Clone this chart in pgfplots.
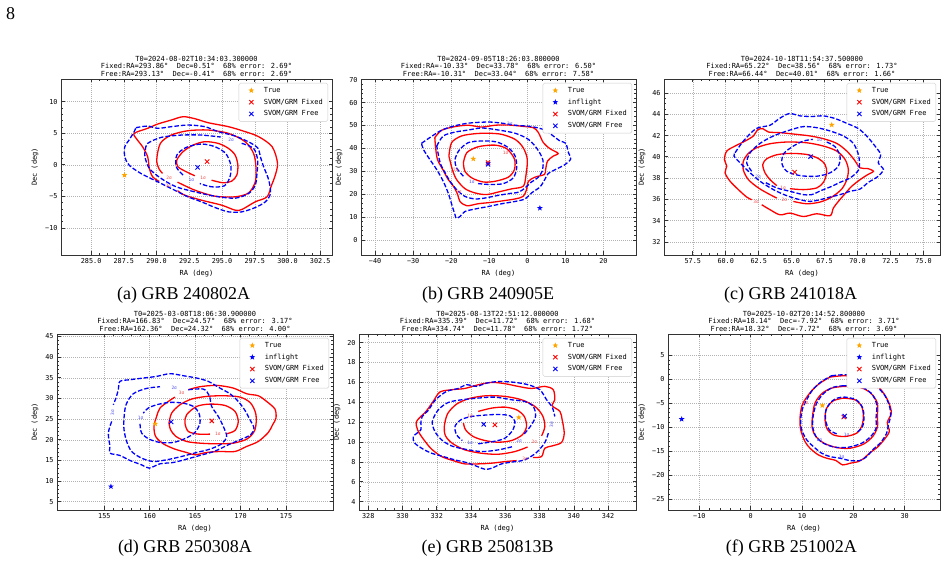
\documentclass[border=0pt]{standalone}
\usepackage{fontspec}
\setmainfont{Liberation Serif}
\newfontfamily\axfont{DejaVu Sans Mono}
\usepackage{pgfplots}
\pgfplotsset{compat=1.18}

\definecolor{trueorange}{RGB}{255,165,0}
\definecolor{lblred}{RGB}{240,80,80}
\definecolor{lblblue}{RGB}{80,80,240}

% filled five-pointed star
\pgfdeclareplotmark{fstar}{%
  \pgfpathmoveto{\pgfpointpolar{90}{\pgfplotmarksize}}%
  \pgfpathlineto{\pgfpointpolar{126}{0.42\pgfplotmarksize}}%
  \pgfpathlineto{\pgfpointpolar{162}{\pgfplotmarksize}}%
  \pgfpathlineto{\pgfpointpolar{198}{0.42\pgfplotmarksize}}%
  \pgfpathlineto{\pgfpointpolar{234}{\pgfplotmarksize}}%
  \pgfpathlineto{\pgfpointpolar{270}{0.42\pgfplotmarksize}}%
  \pgfpathlineto{\pgfpointpolar{306}{\pgfplotmarksize}}%
  \pgfpathlineto{\pgfpointpolar{342}{0.42\pgfplotmarksize}}%
  \pgfpathlineto{\pgfpointpolar{18}{\pgfplotmarksize}}%
  \pgfpathlineto{\pgfpointpolar{54}{0.42\pgfplotmarksize}}%
  \pgfpathclose
  \pgfusepathqfill
}

\newcommand{\axfs}{\axfont\fontsize{7}{7.5}\selectfont}

\pgfplotsset{
  every axis title/.style={at={(0.5,1)}, anchor=south, align=center,
    font=\axfs, inner sep=1pt, yshift=1.5pt},
  grb/.style={
    scale only axis, height=176pt, anchor=south west,
    /pgf/number format/assume math mode=true,
    axis line style={black!80, line width=0.7pt},
    tick align=inside,
    major tick length=3.5pt, minor tick length=2pt,
    tick style={black!80, line width=0.6pt},
    xmajorgrids, ymajorgrids,
    major grid style={black!30, dash pattern=on 1pt off 1pt, line width=0.5pt},
    tick label style={font=\axfont\fontsize{6.8}{7}\selectfont},
    label style={font=\axfs},
    xlabel={RA (deg)}, ylabel={Dec (deg)},
    legend style={at={(1,1)}, xshift=-4pt, yshift=-4pt, anchor=north east,
      draw=black!20, fill=white, rounded corners=1.5pt, font=\axfs,
      row sep=1pt},
    legend cell align=left,
    legend image code/.code={%
      \path (0pt,0pt) (19pt,0pt);
      \draw[mark repeat=2, mark phase=2, ##1] plot coordinates {(0pt,0pt) (9pt,0pt) (18pt,0pt)};},
  },
  c1/.style={red, line width=1.3pt, smooth, forget plot, mark=none},
  c2/.style={blue, line width=1.3pt, smooth, dash pattern=on 4.5pt off 2pt, forget plot, mark=none},
  ptrue/.style={only marks, mark=fstar, mark size=3pt, color=trueorange},
  pinfl/.style={only marks, mark=fstar, mark size=3pt, color=blue},
  pfix/.style={only marks, mark=x, mark size=3pt, color=red, line width=0.9pt},
  pfree/.style={only marks, mark=x, mark size=3pt, color=blue, line width=0.9pt},
}
\tikzset{
  rl/.style={font=\axfont\fontsize{4.5}{5}\selectfont, text=lblred, inner sep=0.2pt},
  bl/.style={font=\axfont\fontsize{4.5}{5}\selectfont, text=lblblue, inner sep=0.2pt},
}

\begin{document}
\begin{tikzpicture}
\path[use as bounding box] (0pt,0pt) rectangle (947pt,564pt);
\node[font=\fontsize{18}{20}\selectfont] at (10.5pt,550.5pt) {8};

% ---------------- (a) GRB 240802A ----------------
\begin{axis}[grb, at={(61pt,309pt)}, width=271pt,
  xmin=282.7, xmax=303.4, ymin=-14.3, ymax=13.6,
  xtick={285,287.5,290,292.5,295,297.5,300,302.5},
  xticklabels={285.0,287.5,290.0,292.5,295.0,297.5,300.0,302.5},
  ytick={-10,-5,0,5,10}, yticklabels={−10,−5,0,5,10},
  minor x tick num=3, minor y tick num=4,
  title={T0=2024-08-02T10:34:03.300000\\Fixed:RA=293.86°~~Dec=0.51°~~68\% error: 2.69°\\Free:RA=293.13°~~Dec=-0.41°~~68\% error: 2.69°}]
\addplot[c1] coordinates {(294.2,-2.44) (295.1,-2.86) (295.74,-2.59) (296.13,-1.63) (296.21,-0.05) (296.0,1.54) (295.49,2.6) (294.71,3.39) (293.69,3.66) (292.79,3.12) (292.02,2.07) (291.55,0.75) (291.63,-0.31) (292.27,-1.11) (292.92,-1.74)};
\addplot[c1] coordinates {(291.6,-2.75) (292.92,-4.02) (294.46,-4.98) (296.0,-5.08) (297.03,-4.45) (297.54,-2.7) (297.59,-0.31) (297.41,1.8) (296.77,3.66) (295.49,4.98) (293.94,5.51) (292.4,5.4) (291.12,4.71) (290.29,3.39) (290.01,0.75) (290.2,-0.7) (290.45,-1.35)};
\addplot[c1] coordinates {(291.6,-4.1) (292.14,-4.81) (293.43,-5.61) (294.97,-6.4) (296.0,-7.19) (296.51,-7.09) (297.54,-5.87) (298.44,-5.08) (298.78,-3.23) (299.03,-1.9) (299.24,0.22) (298.83,2.86) (297.8,4.45) (296.77,5.25) (295.49,6.04) (293.94,6.67) (292.92,7.31) (292.02,7.62) (291.12,7.09) (290.09,6.46) (289.32,5.78) (288.29,4.98) (288.5,4.03) (288.93,2.86) (289.32,1.27) (289.45,-0.58) (289.7,-1.9) (290.2,-2.65)};
\addplot[c2] coordinates {(292.02,-1.63) (291.5,-0.31) (291.55,1.54) (292.27,2.76) (293.43,3.29) (294.46,2.86) (295.28,1.8) (295.67,-0.05) (295.61,-1.9) (295.18,-3.33) (294.2,-3.49) (293.3,-2.97)};
\addplot[c2] coordinates {(296.5,3.4) (297.41,2.6) (297.72,0.75) (297.67,-1.37) (297.54,-3.23) (297.03,-4.55) (296.0,-5.29) (294.46,-4.98) (292.92,-4.29) (291.5,-3.49) (290.35,-2.17) (289.45,-0.58) (289.11,1.27) (289.14,2.33) (289.32,3.39) (290.35,4.34) (291.89,4.71) (293.43,4.71) (294.9,4.4)};
\addplot[c2] coordinates {(288.42,5.88) (289.32,6.14) (290.09,5.78) (291.12,6.04) (292.4,6.3) (293.69,6.04) (294.71,5.25) (296.0,4.56) (297.16,3.49) (297.75,2.6) (297.93,1.27) (298.18,-0.31) (298.57,-2.44) (298.7,-4.55) (298.31,-5.87) (297.54,-6.77) (296.51,-7.46) (295.49,-7.46) (294.46,-6.77) (293.43,-5.87) (292.4,-5.08) (291.37,-4.02) (290.09,-2.7) (288.8,-1.37) (287.9,-0.05) (287.57,1.27) (287.57,2.86) (287.9,3.92) (288.29,5.25) (288.42,5.88)};
\node[rl] at (axis cs:293.55,-2.1) {1σ};
\node[rl] at (axis cs:290.95,-2.05) {2σ};
\node[rl] at (axis cs:290.9,-3.35) {3σ};
\node[bl] at (axis cs:292.65,-2.35) {1σ};
\node[bl] at (axis cs:295.7,3.95) {2σ};
\addplot[ptrue] coordinates {(287.55,-1.65)}; \addlegendentry{True}
\addplot[pfix] coordinates {(293.86,0.51)}; \addlegendentry{SVOM/GRM Fixed}
\addplot[pfree] coordinates {(293.13,-0.41)}; \addlegendentry{SVOM/GRM Free}
\end{axis}

% ---------------- (b) GRB 240905E ----------------
\begin{axis}[grb, at={(361pt,309pt)}, width=275pt,
  xmin=-43.7, xmax=28.55, ymin=-6.6, ymax=70.3,
  xtick={-40,-30,-20,-10,0,10,20}, xticklabels={−40,−30,−20,−10,0,10,20},
  ytick={0,10,20,30,40,50,60,70},
  minor x tick num=4, minor y tick num=4,
  title={T0=2024-09-05T18:26:03.800000\\Fixed:RA=-10.33°~~Dec=33.78°~~68\% error: 6.50°\\Free:RA=-10.31°~~Dec=33.04°~~68\% error: 7.58°}]
\addplot[c1] coordinates {(-16.8,33.7) (-15.9,38.1) (-12.9,40.7) (-8.5,41.4) (-5.4,39.8) (-3.4,35.4) (-3.4,30.7) (-5.0,27.4) (-8.5,25.6) (-11.6,25.3) (-14.6,27.1) (-16.4,30.0) (-16.8,33.7)};
\addplot[c1] coordinates {(-20.6,36.6) (-19.9,42.5) (-17.3,45.4) (-13.7,46.4) (-10.2,46.6) (-6.7,46.1) (-3.2,43.9) (-1.1,40.3) (0.0,35.1) (-0.4,27.8) (-1.1,23.4) (-4.1,22.3) (-7.2,21.1) (-10.7,19.8) (-13.7,20.5) (-16.4,22.4) (-18.6,26.4) (-19.7,30.7) (-20.6,36.6)};
\addplot[c1] coordinates {(-24.3,44.7) (-22.5,47.9) (-19.0,49.5) (-15.5,50.1) (-12.0,49.3) (-8.5,50.1) (-5.0,50.2) (-1.1,49.6) (1.6,49.0) (2.9,46.9) (4.2,42.5) (6.0,39.8) (8.1,37.8) (6.8,36.6) (5.3,34.4) (4.8,30.7) (4.5,28.6) (2.0,27.4) (0.3,25.6) (-0.2,22.0) (-1.1,19.0) (-3.2,17.9) (-6.3,17.1) (-9.4,16.4) (-12.9,15.8) (-15.9,14.9) (-17.7,16.8) (-18.3,19.8) (-19.4,23.4) (-20.8,26.4) (-22.2,30.7) (-23.6,35.1) (-24.1,40.3) (-24.3,44.7)};
\addplot[c2] coordinates {(-16.8,27.8) (-18.6,31.5) (-19.0,35.1) (-17.9,39.2) (-15.5,42.5) (-12.0,43.2) (-8.1,42.8) (-5.0,40.3) (-3.2,36.6) (-2.8,31.5) (-3.7,27.1) (-6.3,24.6) (-9.8,24.2) (-12.9,24.6)};
\addplot[c2] coordinates {(-23.8,41.0) (-22.1,45.4) (-19.0,47.1) (-15.5,48.0) (-12.0,48.9) (-7.6,48.0) (-3.2,46.6) (0.3,43.9) (2.7,39.5) (4.1,34.8) (3.9,30.0) (2.7,27.1) (1.0,25.2) (-0.4,23.0) (-2.2,20.9) (-5.0,20.2) (-8.1,19.3) (-11.1,18.3) (-13.7,17.9) (-16.4,19.0) (-18.6,22.0) (-20.3,25.6) (-21.6,29.3) (-22.9,33.7) (-23.8,41.0)};
\addplot[c2] coordinates {(-27.8,42.2) (-25.6,44.7) (-22.9,47.6) (-19.9,49.5) (-15.5,51.0) (-10.2,51.5) (-6.7,51.0) (-3.2,50.1) (1.1,49.5) (4.6,48.0) (6.8,45.4) (8.6,43.2) (10.1,42.2) (10.8,38.1) (11.4,35.4) (9.9,32.9) (7.7,31.0) (5.5,29.0) (4.6,26.4) (3.3,23.1) (1.1,20.5) (-0.6,17.9) (-3.2,16.8) (-6.7,15.8) (-10.2,14.6) (-13.7,13.5) (-16.4,12.4) (-17.7,10.2) (-18.7,9.5) (-19.0,11.0) (-19.7,14.6) (-20.8,20.5) (-22.1,25.6) (-23.8,30.7) (-25.6,35.1) (-27.3,39.5) (-27.8,42.2)};
\node[rl] at (axis cs:-5.7,38.1) {1σ};
\node[rl] at (axis cs:-18.8,30.5) {2σ};
\node[rl] at (axis cs:-18.0,20.9) {3σ};
\node[bl] at (axis cs:-14.6,25.4) {1σ};
\node[bl] at (axis cs:-4.6,50.6) {3σ};
\addplot[ptrue] coordinates {(-14.2,35.4)}; \addlegendentry{True}
\addplot[pinfl] coordinates {(3.3,13.9)}; \addlegendentry{inflight}
\addplot[pfix] coordinates {(-10.33,33.78)}; \addlegendentry{SVOM/GRM Fixed}
\addplot[pfree] coordinates {(-10.31,33.04)}; \addlegendentry{SVOM/GRM Free}
\end{axis}

% ---------------- (c) GRB 241018A ----------------
\begin{axis}[grb, at={(664pt,309pt)}, width=276pt,
  xmin=55.32, xmax=76.25, ymin=30.76, ymax=47.32,
  xtick={57.5,60,62.5,65,67.5,70,72.5,75},
  xticklabels={57.5,60.0,62.5,65.0,67.5,70.0,72.5,75.0},
  ytick={32,34,36,38,40,42,44,46},
  minor x tick num=3, minor y tick num=3,
  title={T0=2024-10-18T11:54:37.500000\\Fixed:RA=65.22°~~Dec=38.56°~~68\% error: 1.73°\\Free:RA=66.44°~~Dec=40.01°~~68\% error: 1.66°}]
\addplot[c1] coordinates {(64.88,37.0) (65.89,36.91) (66.9,37.07) (67.41,37.6) (67.66,38.49) (67.53,39.27) (67.03,39.84) (66.14,40.22) (64.88,40.32) (63.87,40.19) (63.11,39.81) (62.81,39.27) (62.98,38.49) (63.36,37.85) (63.87,37.29)};
\addplot[c1] coordinates {(65.13,35.8) (66.14,35.58) (67.15,35.74) (68.04,36.21) (68.8,36.97) (69.18,37.85) (69.3,38.8) (69.05,39.75) (68.42,40.54) (67.41,41.01) (66.14,41.32) (64.63,41.39) (63.36,41.23) (62.35,40.85) (61.72,40.32) (61.34,39.59) (61.34,38.74) (61.72,37.85) (62.48,37.07) (63.36,36.44) (63.87,36.12)};
\addplot[c1] coordinates {(62.73,35.49) (63.36,35.02) (64.12,34.54) (64.88,34.7) (65.89,34.38) (66.9,34.64) (67.91,34.45) (68.16,35.17) (68.54,35.8) (69.05,36.53) (69.55,37.22) (70.19,37.85) (70.74,38.3) (71.2,38.64) (70.74,38.9) (70.19,38.96) (69.73,39.75) (69.18,40.54) (68.42,41.26) (67.41,41.7) (66.4,41.96) (65.38,42.11) (64.12,42.27) (63.24,42.33) (62.81,42.65) (62.4,42.52) (62.1,41.96) (61.47,41.48) (60.71,41.01) (60.08,40.54) (59.9,39.75) (60.08,39.12) (59.95,38.49) (60.33,37.7) (60.96,36.91) (61.59,36.21) (61.97,35.96)};
\addplot[c2] coordinates {(67.66,41.39) (68.29,40.95) (68.67,40.06) (68.54,39.12) (67.91,38.49) (66.9,38.17) (65.64,38.23) (64.63,38.64) (64.25,39.43) (64.42,40.32) (65.13,41.01) (65.89,41.48) (66.6,41.64)};
\addplot[c2] coordinates {(61.97,38.64) (61.59,39.43) (61.85,40.38) (62.6,41.26) (63.62,41.96) (64.88,42.52) (65.89,42.84) (66.9,42.74) (67.91,42.43) (68.92,41.96) (69.68,41.26) (70.09,40.06) (70.09,38.8) (69.43,38.01) (68.67,37.6) (68.04,37.22) (67.28,36.85) (66.52,36.44) (65.89,36.44) (64.88,36.75) (63.87,37.07) (62.98,37.6)};
\addplot[c2] coordinates {(60.71,40.38) (61.34,41.48) (62.3,42.65) (63.36,42.97) (64.07,43.6) (64.83,44.07) (65.64,43.85) (66.52,43.79) (67.41,43.85) (68.29,43.6) (69.18,43.15) (70.06,42.65) (70.74,41.89) (71.32,41.01) (71.75,40.22) (71.57,39.43) (71.96,38.8) (71.5,38.11) (70.82,37.6) (70.19,36.97) (69.43,36.75) (68.67,36.44) (67.91,36.21) (67.15,35.96) (66.4,35.8) (65.64,35.96) (64.63,36.34) (63.62,36.91) (62.6,37.7) (61.72,38.64) (61.09,39.43) (60.63,40.06) (60.71,40.38)};
\node[rl] at (axis cs:64.35,37.1) {1σ};
\node[rl] at (axis cs:64.45,35.95) {2σ};
\node[rl] at (axis cs:62.3,35.75) {3σ};
\node[bl] at (axis cs:67.1,41.55) {1σ};
\node[bl] at (axis cs:62.45,38.1) {2σ};
\addplot[ptrue] coordinates {(68.04,43.0)}; \addlegendentry{True}
\addplot[pfix] coordinates {(65.22,38.56)}; \addlegendentry{SVOM/GRM Fixed}
\addplot[pfree] coordinates {(66.44,40.01)}; \addlegendentry{SVOM/GRM Free}
\end{axis}

% ---------------- (d) GRB 250308A ----------------
\begin{axis}[grb, at={(57pt,54pt)}, width=276pt,
  xmin=149.79, xmax=180.18, ymin=3.0, ymax=45.6,
  xtick={155,160,165,170,175}, ytick={5,10,15,20,25,30,35,40,45},
  minor x tick num=4, minor y tick num=4,
  title={T0=2025-03-08T18:06:30.900000\\Fixed:RA=166.83°~~Dec=24.57°~~68\% error: 3.17°\\Free:RA=162.36°~~Dec=24.32°~~68\% error: 4.00°}]
\addplot[c1] coordinates {(166.63,21.37) (165.35,21.37) (164.25,22.01) (163.88,24.03) (164.06,26.05) (165.17,28.07) (166.63,28.63) (168.28,28.31) (169.39,26.86) (169.75,24.43) (169.39,22.25) (168.47,21.45)};
\addplot[c1] coordinates {(162.12,24.03) (162.41,26.45) (163.33,28.47) (164.61,29.85) (166.27,30.49) (168.1,30.65) (169.94,30.33) (171.11,28.88) (171.7,26.05) (171.59,22.42) (170.74,20.23) (169.2,19.18) (167.37,19.02) (165.53,19.18) (164.06,19.59) (162.89,20.8) (162.3,22.42) (162.12,24.03)};
\addplot[c1] coordinates {(164.25,32.11) (165.53,32.84) (167.37,33.16) (169.2,32.51) (170.67,31.14) (171.95,30.65) (172.87,29.28) (173.79,27.42) (173.9,25.24) (173.53,23.63) (173.06,21.77) (171.95,19.59) (170.67,18.38) (169.39,17.16) (167.73,17.16) (166.27,16.92) (164.98,16.36) (164.06,16.92) (162.78,17.73) (161.5,19.02) (160.65,20.8) (160.47,23.22) (160.76,25.65) (161.13,27.67) (162.05,29.28) (162.78,30.33)};
\addplot[c2] coordinates {(158.93,23.87) (159.11,21.61) (159.95,20.15) (161.13,19.35) (162.6,19.35) (163.92,20.32) (164.98,21.77) (165.53,24.03) (165.42,26.45) (164.8,28.07) (163.62,28.88) (162.16,29.04) (160.76,28.47) (159.84,27.67) (159.29,26.45)};
\addplot[c2] coordinates {(164.25,32.11) (165.9,32.27) (166.56,30.65) (166.82,28.07) (167.55,25.65) (168.1,23.22) (168.47,20.8) (167.92,19.02) (166.63,17.73) (165.17,16.92) (163.51,15.95) (161.86,15.15) (160.39,14.74) (159.11,15.55) (158.01,17.16) (157.46,19.59) (157.17,22.42) (157.17,25.24) (157.39,28.47) (158.19,31.14) (159.66,32.43) (161.13,32.84)};
\addplot[c2] coordinates {(155.81,24.43) (155.44,21.61) (155.62,18.38) (155.62,16.76) (156.72,16.2) (157.83,14.98) (159.11,13.93) (159.95,13.13) (161.13,14.18) (162.6,14.5) (164.06,15.31) (165.53,16.2) (167.18,17.25) (168.65,18.78) (169.94,19.99) (171.11,21.2) (171.48,22.82) (171.04,24.84) (170.49,27.1) (169.75,29.28) (168.83,31.14) (167.73,32.51) (166.45,34.13) (165.17,34.94) (163.7,35.5) (162.23,35.99) (160.76,35.34) (159.29,34.94) (157.83,34.53) (156.72,34.13) (156.54,32.11) (156.28,30.09) (155.99,28.47)};
\node[rl] at (axis cs:167.5,21.4) {1σ};
\node[rl] at (axis cs:163.5,31.3) {3σ};
\node[bl] at (axis cs:159.0,25.2) {1σ};
\node[bl] at (axis cs:162.7,32.6) {2σ};
\node[bl, rotate=90] at (axis cs:155.9,26.5) {3σ};
\addplot[ptrue] coordinates {(160.61,23.87)}; \addlegendentry{True}
\addplot[pinfl] coordinates {(155.73,8.68)}; \addlegendentry{inflight}
\addplot[pfix] coordinates {(166.83,24.57)}; \addlegendentry{SVOM/GRM Fixed}
\addplot[pfree] coordinates {(162.36,24.32)}; \addlegendentry{SVOM/GRM Free}
\end{axis}

% ---------------- (e) GRB 250813B ----------------
\begin{axis}[grb, at={(359pt,54pt)}, width=277pt,
  xmin=327.46, xmax=343.63, ymin=3.16, ymax=20.87,
  xtick={328,330,332,334,336,338,340,342}, ytick={4,6,8,10,12,14,16,18,20},
  minor x tick num=3, minor y tick num=3,
  title={T0=2025-08-13T22:51:12.000000\\Fixed:RA=335.39°~~Dec=11.72°~~68\% error: 1.68°\\Free:RA=334.74°~~Dec=11.78°~~68\% error: 1.72°}]
\addplot[c1] coordinates {(334.42,13.08) (335.2,13.41) (335.98,13.51) (336.66,13.24) (337.11,12.57) (337.24,11.56) (336.99,10.72) (336.37,10.15) (335.59,9.98) (334.81,10.15) (334.13,10.55) (333.68,11.23) (333.56,11.9)};
\addplot[c1] coordinates {(337.3,9.5) (336.56,9.04) (335.59,8.77) (334.61,8.87) (333.64,9.21) (332.9,9.88) (332.51,10.62) (332.44,11.56) (332.63,12.84) (333.16,13.82) (333.93,14.39) (334.91,14.66) (335.98,14.59) (336.95,14.25) (337.73,13.58) (338.18,12.64) (338.31,11.56) (338.12,10.62)};
\addplot[c1] coordinates {(336.66,8.13) (335.98,8.03) (335.2,7.87) (334.42,7.8) (333.64,7.8) (332.96,8.13) (332.28,8.54) (331.7,9.28) (331.4,9.88) (331.11,10.55) (330.88,11.23) (330.82,12.07) (331.37,13.08) (331.79,14.08) (332.18,15.03) (332.86,15.26) (333.64,15.39) (334.42,15.76) (335.2,16.0) (335.98,15.87) (336.75,15.6) (337.53,15.39) (338.31,15.6) (338.8,15.26) (338.89,14.25) (338.74,13.65) (339.19,13.08) (339.32,12.24) (339.44,10.89) (339.28,9.95) (338.74,9.61) (338.31,9.38) (338.12,8.54) (337.63,8.44)};
\addplot[c2] coordinates {(334.42,9.82) (335.2,10.02) (335.94,10.35) (336.42,11.16) (336.56,12.07) (336.27,12.64) (335.59,12.77) (334.81,12.71) (334.03,12.57) (333.41,12.24) (333.06,11.56) (333.16,10.72) (333.49,10.15)};
\addplot[c2] coordinates {(337.11,10.82) (337.53,11.73) (337.77,12.64) (337.63,13.58) (337.14,14.08) (336.37,14.25) (335.39,14.52) (334.42,14.42) (333.45,14.25) (332.67,13.98) (332.09,13.24) (331.74,12.07) (331.89,11.06) (332.28,10.22) (332.86,9.61) (333.64,9.28) (334.61,9.04) (335.59,9.21) (336.46,9.55)};
\addplot[c2] coordinates {(338.51,10.89) (338.31,9.95) (337.82,8.94) (337.14,8.2) (336.56,8.03) (335.78,7.8) (335.2,7.36) (334.81,7.26) (334.38,7.53) (333.74,7.93) (333.06,8.2) (332.38,8.54) (331.7,8.87) (331.21,9.28) (330.72,9.88) (330.63,10.55) (331.07,11.23) (331.07,11.9) (331.15,12.57) (331.5,13.18) (331.93,14.25) (332.57,15.09) (333.25,15.39) (333.74,15.76) (334.32,15.6) (334.91,15.93) (335.68,16.1) (336.56,16.0) (337.34,15.76) (338.02,15.26) (338.41,14.25) (338.74,13.51) (338.89,12.57)};
\node[rl] at (axis cs:333.95,12.6) {1σ};
\node[rl] at (axis cs:337.7,10.05) {2σ};
\node[rl] at (axis cs:337.15,8.3) {3σ};
\node[bl] at (axis cs:333.95,9.95) {1σ};
\node[bl] at (axis cs:336.8,10.15) {2σ};
\node[bl, rotate=90] at (axis cs:338.7,11.75) {3σ};
\addplot[ptrue] coordinates {(336.79,12.47)}; \addlegendentry{True}
\addplot[pfix] coordinates {(335.39,11.72)}; \addlegendentry{SVOM/GRM Fixed}
\addplot[pfree] coordinates {(334.74,11.78)}; \addlegendentry{SVOM/GRM Free}
\end{axis}

% ---------------- (f) GRB 251002A ----------------
\begin{axis}[grb, at={(668pt,54pt)}, width=272pt,
  xmin=-16.1, xmax=36.88, ymin=-27.3, ymax=9.4,
  xtick={-10,0,10,20,30}, xticklabels={−10,0,10,20,30},
  ytick={-25,-20,-15,-10,-5,0,5}, yticklabels={−25,−20,−15,−10,−5,0,5},
  minor x tick num=4, minor y tick num=4,
  title={T0=2025-10-02T20:14:52.800000\\Fixed:RA=18.14°~~Dec=-7.92°~~68\% error: 3.71°\\Free:RA=18.32°~~Dec=-7.72°~~68\% error: 3.69°}]
\addplot[c1] coordinates {(18.05,-3.97) (20.32,-4.32) (21.62,-5.71) (21.95,-7.8) (21.62,-9.89) (20.65,-11.28) (18.38,-11.98) (16.1,-11.63) (14.81,-10.24) (14.48,-8.15) (14.81,-6.06) (16.1,-4.53) (18.05,-3.97)};
\addplot[c1] coordinates {(18.05,-1.53) (21.3,-1.74) (23.38,-2.92) (24.68,-5.01) (24.68,-7.8) (24.68,-10.03) (23.77,-11.98) (21.95,-13.58) (19.35,-14.42) (16.75,-14.28) (14.29,-13.37) (12.6,-11.84) (11.95,-9.89) (12.08,-7.45) (12.53,-5.01) (13.83,-3.06) (15.78,-1.88) (18.05,-1.53)};
\addplot[c1] coordinates {(15.45,0.42) (18.05,0.7) (20.65,0.42) (22.92,-0.14) (24.68,-1.39) (25.97,-3.06) (26.95,-5.01) (27.4,-7.1) (26.62,-9.05) (27.01,-10.93) (25.97,-12.67) (24.68,-14.21) (23.12,-15.46) (22.08,-16.5) (20.97,-17.2) (19.35,-17.55) (17.92,-17.9) (16.62,-16.99) (14.81,-16.5) (13.18,-15.81) (11.56,-14.42) (10.58,-13.02) (9.74,-10.58) (9.61,-8.15) (9.94,-5.71) (10.58,-4.32) (11.88,-2.44) (13.51,-0.84) (15.45,0.42)};
\addplot[c2] coordinates {(16.75,-11.42) (15.32,-10.58) (14.61,-8.64) (14.68,-6.41) (15.78,-4.67) (16.88,-3.97) (18.38,-3.76) (20.52,-4.32) (21.75,-5.85) (22.08,-7.94) (21.75,-10.03) (20.65,-11.14)};
\addplot[c2] coordinates {(18.05,-1.39) (21.3,-1.53) (23.57,-3.06) (24.55,-5.36) (24.42,-8.15) (24.42,-10.24) (23.38,-11.98) (21.62,-13.37) (19.03,-14.21) (16.43,-14.21) (14.16,-13.37) (12.73,-11.98) (12.08,-9.89) (12.21,-7.45) (12.86,-5.01) (14.16,-3.06) (15.97,-1.74) (18.05,-1.39)};
\addplot[c2] coordinates {(15.78,0.7) (18.38,0.91) (20.97,0.56) (23.25,-0.49) (24.87,-1.88) (26.17,-3.48) (27.01,-5.57) (27.27,-7.66) (26.82,-9.54) (26.49,-11.28) (25.32,-13.23) (23.9,-14.62) (22.6,-16.16) (21.3,-16.99) (19.35,-16.99) (17.4,-16.5) (15.45,-16.16) (13.83,-15.46) (12.21,-14.07) (10.91,-12.67) (9.94,-10.58) (9.74,-8.5) (10.13,-6.06) (10.91,-4.32) (12.08,-2.23) (13.83,-0.49) (15.78,0.7)};
\node[rl] at (axis cs:10.7,-5.0) {3σ};
\node[bl] at (axis cs:18.7,-11.6) {1σ};
\node[bl] at (axis cs:13.4,-12.6) {2σ};
\node[bl] at (axis cs:17.7,-16.3) {3σ};
\addplot[ptrue] coordinates {(13.96,-5.5)}; \addlegendentry{True}
\addplot[pinfl] coordinates {(-13.44,-8.36)}; \addlegendentry{inflight}
\addplot[pfix] coordinates {(18.14,-7.92)}; \addlegendentry{SVOM/GRM Fixed}
\addplot[pfree] coordinates {(18.32,-7.72)}; \addlegendentry{SVOM/GRM Free}
\end{axis}

% sub-figure captions
\begin{scope}[every node/.style={font=\fontsize{18}{20}\selectfont}]
\node at (183.7pt,269pt) {(a) GRB 240802A};
\node at (488pt,269pt) {(b) GRB 240905E};
\node at (790.7pt,269pt) {(c) GRB 241018A};
\node at (185pt,16pt) {(d) GRB 250308A};
\node at (487.7pt,16pt) {(e) GRB 250813B};
\node at (791.3pt,16pt) {(f) GRB 251002A};
\end{scope}
\end{tikzpicture}
\end{document}
